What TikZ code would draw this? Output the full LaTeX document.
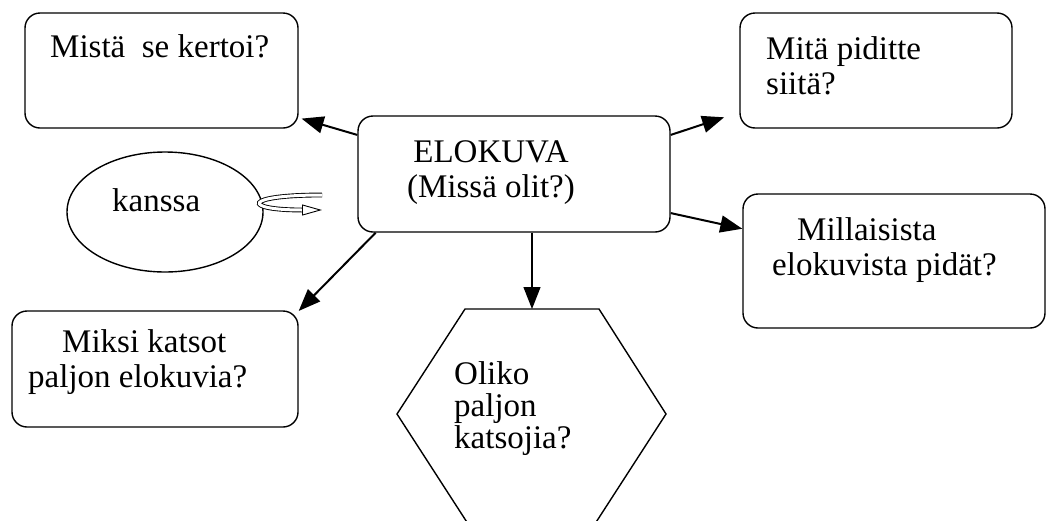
\documentclass[tikz,border=0pt]{standalone}
\usepackage{fontspec}
\setmainfont{Liberation Serif}
\usetikzlibrary{arrows.meta,shapes.geometric}

\begin{document}
\begin{tikzpicture}[x=1pt, y=-1pt,
  box/.style={draw, line width=1.4pt, rounded corners=15pt, inner sep=0pt},
  bubble/.style={draw, line width=1.4pt, ellipse, inner sep=0pt, minimum width=196pt, minimum height=120pt},
  txt/.style={inner sep=0pt, align=left, anchor=base west, font=\fontsize{33}{35}\selectfont},
  link/.style={line width=2pt, -{Triangle[length=22pt, width=17pt]}},
  turn/.style={double, double distance=3pt, line width=0.9pt, -{Triangle[open, length=20pt, width=11pt]}}
]
\useasboundingbox (0,0) rectangle (1048,520);
\clip (0,0) rectangle (1048,520);

% boxes
\node[box, minimum width=312pt, minimum height=116pt] (film) at (514,174) {};
\node[box, minimum width=273pt, minimum height=115pt] (story) at (161.5,70.5) {};
\node[box, minimum width=272pt, minimum height=115pt] (opinion) at (876,70.5) {};
\node[box, minimum width=302pt, minimum height=134pt] (genre) at (894,261) {};
\node[box, minimum width=286pt, minimum height=116pt] (why) at (155,369) {};
\node[bubble] (with) at (165,212) {};

% hexagon
\coordinate (hextop) at (532,309);
\draw[line width=1.4pt] (465,309) -- (599,309) -- (666,414) -- (591,530) -- (472,530) -- (397,414) -- cycle;

% texts (anchored at the last line)
\node[txt, align=center, anchor=base] (filmtext) at (491,197) {ELOKUVA\\(Missä olit?)};
\node[txt] (storytext) at (50,57) {Mistä\ \ se kertoi?};
\node[txt] (opiniontext) at (766,94) {Mitä piditte\\siitä?};
\node[txt] (genretext) at (772,275) {\hspace*{25pt}Millaisista\\elokuvista pidät?};
\node[txt] (whytext) at (28,387) {\hspace*{34pt}Miksi katsot\\paljon elokuvia?};
\node[txt, font=\fontsize{33}{32}\selectfont] (hextext) at (454,448) {Oliko\\paljon\\katsojia?};
\node[txt] (withtext) at (112,211) {kanssa};

% arrows
\draw[link, shorten >=3pt] (film.166) -- (story.-19);
\draw[link, shorten >=16pt] (film.14) -- (opinion.-163);
\draw[link] (film.-14) -- (genre.168);
\draw[link] (film.-157) -- (why.22);
\draw[link, line width=1.2pt] (film.south -| hextop) -- (hextop);

\coordinate (tail) at (322,195);
\coordinate (tip) at (322,210);
\draw[turn] (tail) .. controls (242,195) and (242,210) .. (tip);
\end{tikzpicture}
\end{document}
